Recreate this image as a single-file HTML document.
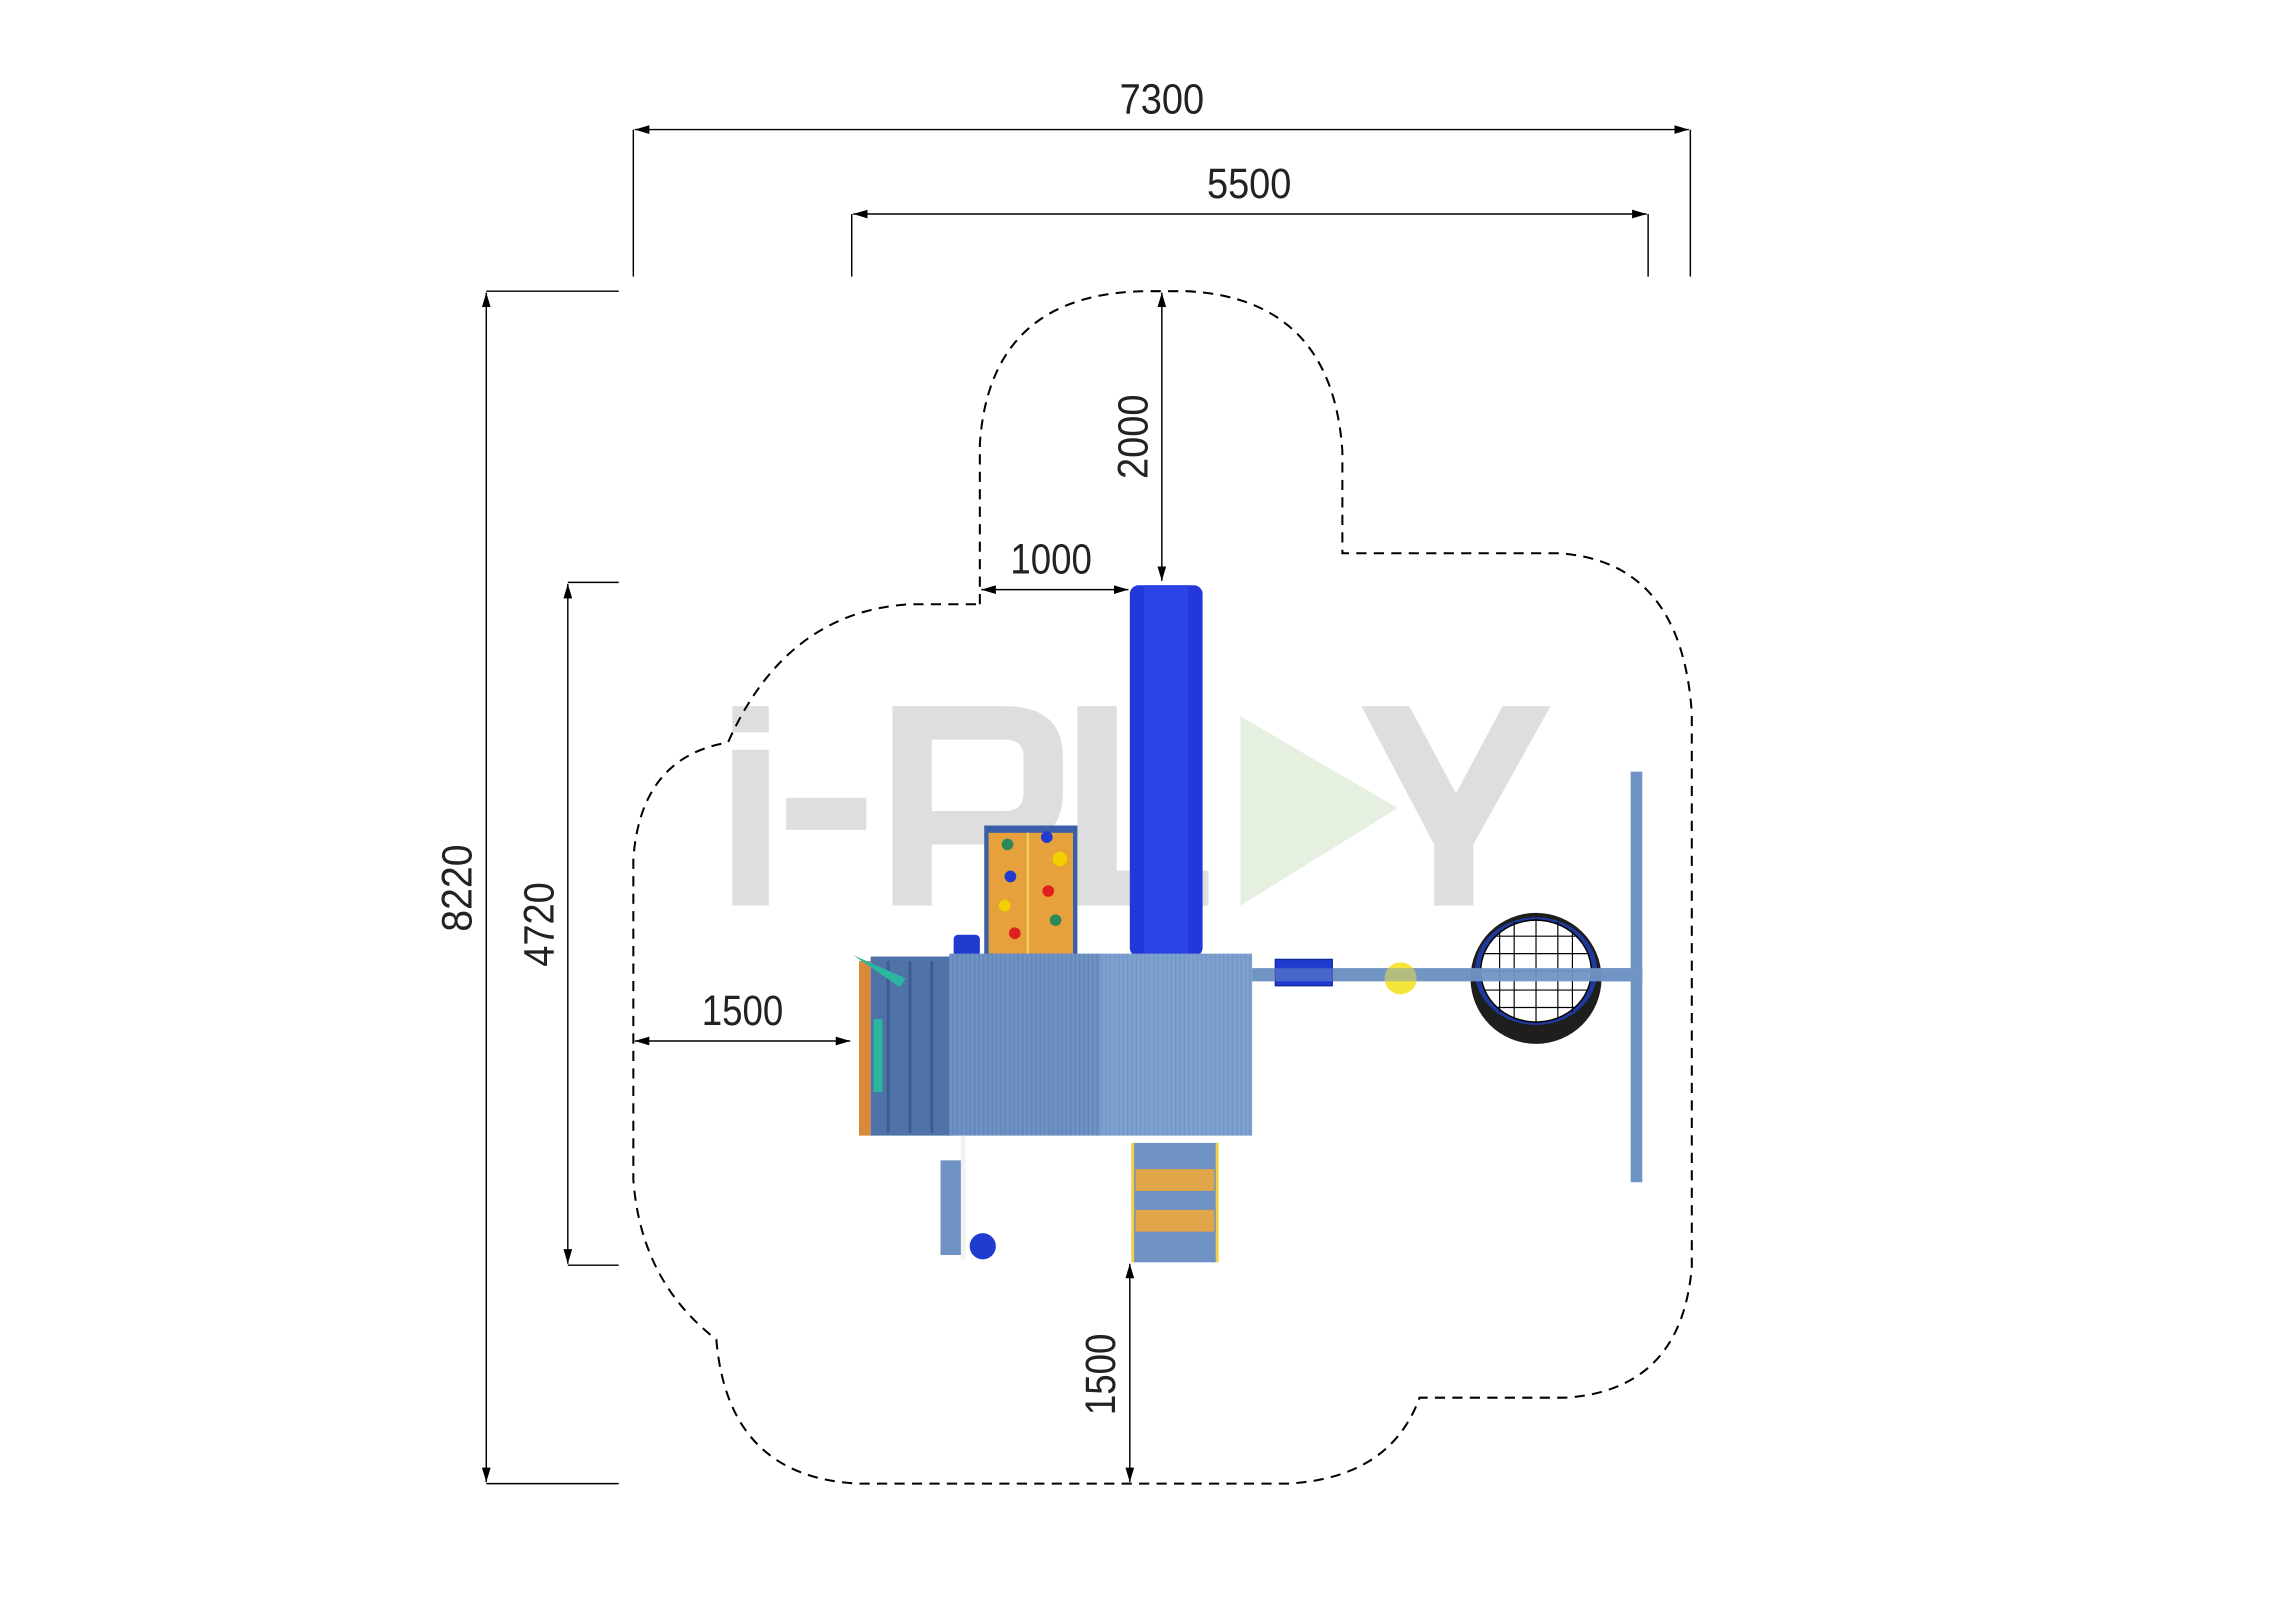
<!DOCTYPE html>
<html><head><meta charset="utf-8"><style>
html,body{margin:0;padding:0;background:#fff;}
svg{display:block;}
text{font-family:"Liberation Sans",sans-serif;font-weight:300;}
</style></head><body>
<svg width="2280" height="1612" viewBox="0 0 1566 1107.2" preserveAspectRatio="none" xmlns="http://www.w3.org/2000/svg">
<defs>
<marker id="a" markerWidth="10" markerHeight="6" refX="10" refY="3" orient="auto-start-reverse" markerUnits="userSpaceOnUse"><path d="M0,0 L10,3 L0,6 Z" fill="#000"/></marker>
<pattern id="st" width="3" height="10" patternUnits="userSpaceOnUse"><rect width="3" height="10" fill="#6e92c3"/><rect width="1" height="10" fill="#6486ba"/></pattern>
<pattern id="st2" width="3" height="10" patternUnits="userSpaceOnUse"><rect width="3" height="10" fill="#7ea2cf"/><rect width="1" height="10" fill="#7396c6"/></pattern>
</defs>

<g fill="#dedede">
<rect x="503" y="515" width="25" height="107"/><rect x="503" y="485" width="25" height="18"/>
<rect x="540" y="548" width="55" height="22"/>
<path d="M613,485 H690 Q730,485 730,520 V545 Q730,580 690,580 H640 V622 H613 Z M640,508 V557 H690 Q703,557 703,545 V520 Q703,508 690,508 Z" fill-rule="evenodd"/>
<path d="M740,485 H767 V598 H830 V622 H740 Z"/>
<path d="M935,485 H968 L1000,545 L1032,485 H1065 L1012,580 V622 H985 V580 Z"/>
</g>
<path d="M852,492 L960,555 L852,622 Z" fill="#e6f0e0"/>

<g stroke="#000" stroke-width="1" fill="none">
<line x1="435" y1="89" x2="435" y2="190"/><line x1="1161" y1="89" x2="1161" y2="190"/>
<line x1="436" y1="89" x2="1160" y2="89" marker-start="url(#a)" marker-end="url(#a)"/>
<line x1="585" y1="147" x2="585" y2="190"/><line x1="1132" y1="147" x2="1132" y2="190"/>
<line x1="586" y1="147" x2="1131" y2="147" marker-start="url(#a)" marker-end="url(#a)"/>
<line x1="334" y1="200" x2="425" y2="200"/><line x1="334" y1="1019" x2="425" y2="1019"/>
<line x1="334" y1="201" x2="334" y2="1018" marker-start="url(#a)" marker-end="url(#a)"/>
<line x1="390" y1="400" x2="425" y2="400"/><line x1="390" y1="869" x2="425" y2="869"/>
<line x1="390" y1="401" x2="390" y2="868" marker-start="url(#a)" marker-end="url(#a)"/>
<line x1="798" y1="201" x2="798" y2="399" marker-start="url(#a)" marker-end="url(#a)"/>
<line x1="674" y1="405" x2="775" y2="405" marker-start="url(#a)" marker-end="url(#a)"/>
<line x1="436" y1="715" x2="584" y2="715" marker-start="url(#a)" marker-end="url(#a)"/>
<line x1="776" y1="868" x2="776" y2="1018" marker-start="url(#a)" marker-end="url(#a)"/>
</g>
<g font-size="29" fill="#222">
<text x="798" y="78" text-anchor="middle" textLength="58" lengthAdjust="spacingAndGlyphs">7300</text>
<text x="858" y="136" text-anchor="middle" textLength="58" lengthAdjust="spacingAndGlyphs">5500</text>
<text x="722" y="394" text-anchor="middle" textLength="56" lengthAdjust="spacingAndGlyphs">1000</text>
<text x="510" y="704" text-anchor="middle" textLength="56" lengthAdjust="spacingAndGlyphs">1500</text>
<text transform="translate(788,300) rotate(-90)" text-anchor="middle" textLength="58" lengthAdjust="spacingAndGlyphs">2000</text>
<text transform="translate(324,610) rotate(-90)" text-anchor="middle" textLength="60" lengthAdjust="spacingAndGlyphs">8220</text>
<text transform="translate(380,635) rotate(-90)" text-anchor="middle" textLength="58" lengthAdjust="spacingAndGlyphs">4720</text>
<text transform="translate(766,944) rotate(-90)" text-anchor="middle" textLength="56" lengthAdjust="spacingAndGlyphs">1500</text>
</g>

<path d="M673,415 V305 Q680,200 790,200 H815 Q915,205 922,310 V380 H1070 Q1155,385 1162,490 V870 Q1155,955 1075,960 H975 Q955,1015 885,1019 H590 Q500,1015 492,920 Q440,880 435,810 V590 Q440,520 500,510 Q540,420 625,415 Z" fill="none" stroke="#000" stroke-width="1.4" stroke-dasharray="7,5"/>

<rect x="1120" y="530" width="8" height="282" fill="#6f93c4"/>
<rect x="860" y="665" width="268" height="9" fill="#7094c4"/>
<ellipse cx="1055" cy="672" rx="45" ry="45" fill="#1e1e1e"/>
<ellipse cx="1055" cy="667" rx="42" ry="37" fill="#1f3a9e"/>
<ellipse cx="1055" cy="667" rx="38" ry="35" fill="#fff" stroke="#000" stroke-width="1"/>
<g stroke="#000" stroke-width="0.8" fill="none">
<path d="M1020,655 H1090 M1018,667 H1092 M1020,680 H1090 M1028,643 H1082 M1028,692 H1082 M1040,633 V700 M1055,631 V703 M1070,633 V700 M1030,640 V695 M1080,640 V695"/>
</g>
<rect x="1010" y="665" width="110" height="9" fill="#7094c4" opacity="0.9"/>
<rect x="876" y="659" width="39" height="18" fill="#1f3bd0" stroke="#1028a0"/>
<circle cx="962" cy="672" r="11" fill="#f5e43a"/>
<rect x="860" y="665" width="268" height="9" fill="#7094c4" opacity="0.5"/>

<rect x="776" y="402" width="50" height="255" rx="6" fill="#2338d8"/>
<rect x="786" y="402" width="30" height="255" fill="#2a44e6"/>
<rect x="676" y="567" width="64" height="90" fill="#3a5fa8"/>
<rect x="679" y="572" width="58" height="83" fill="#e6a03c"/>
<line x1="706" y1="572" x2="706" y2="656" stroke="#f0d060" stroke-width="1.5"/>
<g><circle cx="692" cy="580" r="4" fill="#2a8a5a"/><circle cx="719" cy="575" r="4" fill="#1f3bd0"/><circle cx="728" cy="590" r="5" fill="#f2d000"/><circle cx="694" cy="602" r="4" fill="#1f3bd0"/><circle cx="720" cy="612" r="4" fill="#e02020"/><circle cx="690" cy="622" r="4" fill="#f2d000"/><circle cx="725" cy="632" r="4" fill="#2a8a5a"/><circle cx="697" cy="641" r="4" fill="#e02020"/></g>
<rect x="655" y="642" width="18" height="15" rx="3" fill="#1f3bd0"/>

<rect x="590" y="660" width="8" height="120" fill="#d98a3a"/>
<rect x="598" y="657" width="56" height="123" fill="#4f72a8"/>
<g stroke="#3c5c90" stroke-width="2"><line x1="610" y1="660" x2="610" y2="778"/><line x1="625" y1="660" x2="625" y2="778"/><line x1="640" y1="660" x2="640" y2="778"/></g>
<path d="M586,656 L622,672 L618,678 Z" fill="#2bb6a0"/>
<rect x="600" y="700" width="6" height="50" fill="#2bb6a0"/>
<rect x="652" y="655" width="104" height="125" fill="url(#st)"/>
<rect x="756" y="655" width="104" height="125" fill="url(#st2)"/>

<rect x="778" y="785" width="58" height="82" fill="#6e92c3"/>
<rect x="780" y="803" width="54" height="15" fill="#e1a54a"/>
<rect x="780" y="831" width="54" height="15" fill="#e1a54a"/>
<rect x="777" y="785" width="2" height="82" fill="#f0d040"/><rect x="835" y="785" width="2" height="82" fill="#f0d040"/>
<rect x="646" y="797" width="14" height="65" fill="#6e92c3"/>
<circle cx="675" cy="856" r="9" fill="#1f3bd0"/>
<rect x="660" y="780" width="3" height="85" fill="#f2f2f2"/>
</svg>
</body></html>
